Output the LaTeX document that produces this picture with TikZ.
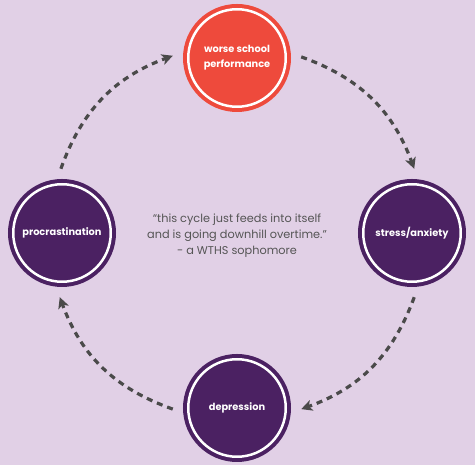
\documentclass[tikz,border=0pt]{standalone}
\usepackage{fontspec}
\setmainfont{Poppins}
\usepackage{xcolor}
\usetikzlibrary{positioning,arrows.meta}
\definecolor{bgpaper}{HTML}{E1D0E6}
\definecolor{cycpurple}{HTML}{4B2162}
\definecolor{cycred}{HTML}{EE4A3C}
\definecolor{cycgray}{HTML}{4A4A4A}
\definecolor{quotegray}{HTML}{555555}

\begin{document}
\begin{tikzpicture}[x=1pt, y=1pt, >={Stealth[length=11pt, width=11pt, inset=3pt]},
cycnode/.style={circle, fill=cycpurple, draw=cycpurple, double=white, double distance=2.5pt,
line width=4pt, minimum size=97.5pt, inner sep=0pt, outer sep=15.5pt, align=center,
text=white, font=\fontsize{9.8}{15}\selectfont\bfseries},
cycarrow/.style={->, draw=cycgray, line width=3.2pt, dash pattern=on 6pt off 5pt}]
\fill[bgpaper] (0,0) rectangle (475,465);
\useasboundingbox (0,0) rectangle (475,465);
\node[cycnode, fill=cycred, draw=cycred] (perf) at (237,407) {worse school\\performance};
\node[cycnode] (stress) at (412,232) {stress/anxiety};
\node[cycnode] (depr) at (237,57) {depression};
\node[cycnode] (procr) at (62,232) {procrastination};
\node[align=center, text=quotegray, font=\fontsize{11.3}{16}\selectfont] (quote) at (237,229)
{“this cycle just feeds into itself\\and is going downhill overtime.”\\- a WTHS sophomore};
\draw[cycarrow] (perf.1.5) to[bend left=25] (stress.88.5);
\draw[cycarrow] (stress.-88.5) to[bend left=25] (depr.-1.5);
\draw[cycarrow] (depr.181.5) to[bend left=25] (procr.268.5);
\draw[cycarrow] (procr.91.5) to[bend left=25] (perf.178.5);
\end{tikzpicture}
\end{document}
